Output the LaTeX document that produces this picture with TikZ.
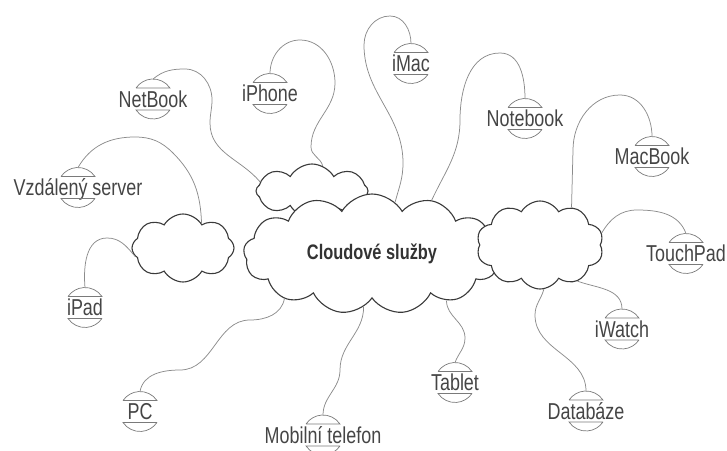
\documentclass[tikz,border=0pt]{standalone}
\usepackage{fontspec}
\setmainfont{Liberation Sans}[FakeStretch=0.78]
\usetikzlibrary{shapes.symbols}
\usetikzlibrary{calc}

\definecolor{cloudline}{HTML}{3A3A3A}
\definecolor{linkgray}{HTML}{8C8C8C}
\definecolor{capgray}{HTML}{7A7A7A}
\definecolor{labelgray}{HTML}{454545}

\begin{document}
\begin{tikzpicture}[x=1pt, y=1pt,
    cloudbox/.style={cloud, cloud ignores aspect, cloud puff arc=120, draw=cloudline, line width=1.1pt, fill=white, inner sep=0pt},
    devlabel/.style={inner sep=0pt, text height=16.5pt, text depth=0pt, text=labelgray, font=\fontsize{23}{23}\selectfont},
    capline/.style={draw=capgray, line width=0.7pt},
    link/.style={draw=linkgray, line width=0.75pt}]
  \useasboundingbox (0,0) rectangle (727,450);

  % a label with its two caps, and the point where its line ends
  \def\device#1#2#3{%
    \node[devlabel] (#1) at (#2) {#3};
    \draw[capline] ([xshift=-17pt,yshift=2.5pt]#1.north) -- ++(34,0) arc[start angle=34, end angle=146, radius=20.5] -- cycle;
    \draw[capline] ([xshift=17pt,yshift=-2.5pt]#1.south) -- ++(-34,0) arc[start angle=-146, end angle=-34, radius=20.5] -- cycle;
    \coordinate (#1-top) at ([yshift=11.5pt]#1.north);
  }

  % clouds
  \node[cloudbox, cloud puffs=8, minimum width=112pt, minimum height=54pt] (topc) at (312,259) {};
  \node[cloudbox, cloud puffs=13, minimum width=257pt, minimum height=120pt,
        font=\fontsize{21}{21}\selectfont\bfseries, text=black!80] (main) at (372,196) {Cloudové služby};
  \node[cloudbox, cloud puffs=10, minimum width=127pt, minimum height=88pt] (right) at (540,205) {};
  \node[cloudbox, cloud puffs=8, minimum width=102pt, minimum height=68pt] (left) at (183,202) {};

  % devices
  \device{server}{78,262.5}{Vzdálený server}
  \device{netbook}{153,351}{NetBook}
  \device{iphone}{270,356.5}{iPhone}
  \device{imac}{411,386.5}{iMac}
  \device{notebook}{525,331.5}{Notebook}
  \device{macbook}{652,293.5}{MacBook}
  \device{touchpad}{686,196.5}{TouchPad}
  \device{ipad}{85,142.5}{iPad}
  \device{iwatch}{622,121}{iWatch}
  \device{tablet}{455,67.5}{Tablet}
  \device{databaze}{586,39}{Databáze}
  \device{pc}{140,38.5}{PC}
  \device{mobil}{323,15}{Mobilní telefon}

  % lines
  \draw[link] (left.53) to[out=92,in=-45] (173,297) to[out=135,in=0] (135,313) to[out=180,in=60] (server-top);
  \draw[link] (left.190) to[out=130,in=0] (107,212) to[out=180,in=95] (ipad-top);
  \draw[link] (topc.170) to[out=130,in=-90] (210,327) to[out=90,in=-90] (212,350) to[out=90,in=0] (185,381) to[out=180,in=40] (netbook-top);
  \draw[link] (topc.67) to[out=105,in=-90] (311,303) to[out=90,in=-90] (335,367) to[out=90,in=0] (300,410) to[out=180,in=90] (iphone-top);
  \draw[link] (main.66) to[out=75,in=-90] (403,287) to[out=90,in=-90] (364,405) to[out=90,in=180] (390,434) to[out=0,in=90] (imac-top);
  \draw[link] (main.42) to[out=65,in=-90] (460,330) to[out=90,in=180] (500,397) to[out=0,in=90] (notebook-top);
  \draw[link] (right.50) -- (573,300) to[out=90,in=180] (620,355) to[out=0,in=90] (macbook-top);
  \draw[link] (right.11) to[out=60,in=180] (637,240) to[out=0,in=110] (touchpad-top);
  \draw[link] (right.-44) to[out=-20,in=90] (iwatch-top);
  \draw[link] (right.-85) to[out=-105,in=90] (535,135) to[out=-90,in=90] (databaze-top);
  \draw[link] (main.-32) to[out=-90,in=90] (465,112) to[out=-90,in=70] (tablet-top);
  \draw[link] (main.-99) to[out=-90,in=90] (340,80) to[out=-90,in=90] (mobil-top);
  \draw[link] (main.-153) to[out=-100,in=0] (250,130) to[out=180,in=0] (180,80) to[out=180,in=80] (pc-top);
\end{tikzpicture}
\end{document}
